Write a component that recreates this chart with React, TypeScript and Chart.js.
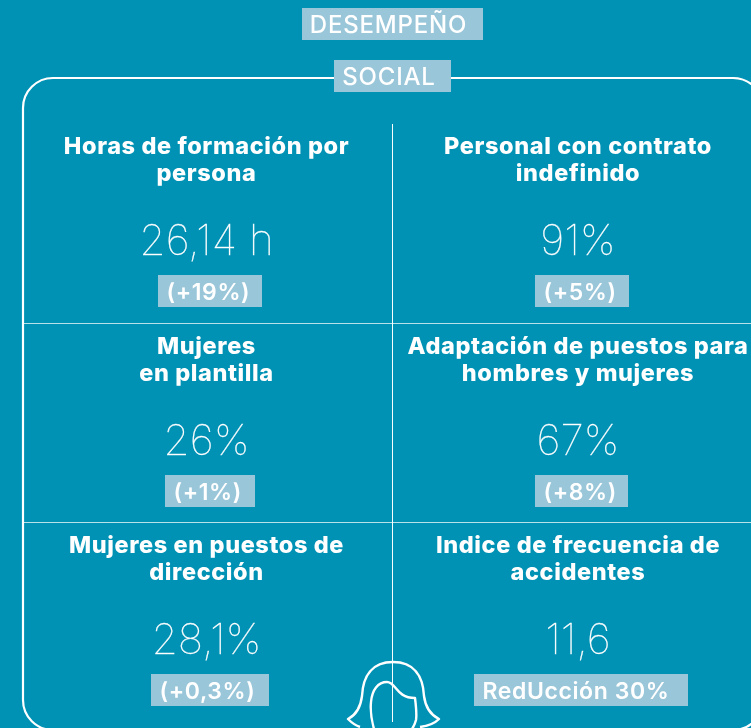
import React, { useEffect, useRef } from "react";
import { Chart, registerables } from "chart.js";

Chart.register(...registerables);

const heading = "DESEMPEÑO";
const section = "SOCIAL";
const titles = [
  ["Horas de formación por", "persona"],
  ["Personal con contrato", "indefinido"],
  ["Mujeres", "en plantilla"],
  ["Adaptación de puestos para", "hombres y mujeres"],
  ["Mujeres en puestos de", "dirección"],
  ["Indice de frecuencia de", "accidentes"],
];
const values = ["26,14 h", "91%", "26%", "67%", "28,1%", "11,6"];
const changes = ["(+19%)", "(+5%)", "(+1%)", "(+8%)", "(+0,3%)", "RedUcción 30%"];

// layout (page pixels)
const W = 751, H = 728;
const colCenters = [206.5, 578];
const rowOffsets = [0, 200, 399];
const badges = [
  [158, 262], [535, 629], [165, 255], [535, 628], [151, 269], [474, 688],
];
const BG = "#0092b5";
const BOX = "#9ac6d9";
const FONT = 'Inter, "Open Sans", sans-serif';

const infographic = {
  id: "infographic",
  afterDatasetsDraw(chart: any) {
    const { ctx, scales } = chart;
    const X = (v: number) => scales.x.getPixelForValue(v);
    const Y = (v: number) => scales.y.getPixelForValue(v);
    ctx.save();
    ctx.textBaseline = "alphabetic";
    ctx.fillStyle = "#fff";

    // frame
    ctx.strokeStyle = "#fff";
    ctx.lineWidth = 2.2;
    ctx.beginPath();
    ctx.roundRect(X(23), Y(78), 740, 652, 30);
    ctx.stroke();

    const box = (x0: number, x1: number, y0: number, y1: number) => {
      ctx.fillStyle = BOX;
      ctx.fillRect(X(x0), Y(y0), x1 - x0, y1 - y0);
      ctx.fillStyle = "#fff";
    };

    // header tags
    ctx.textAlign = "center";
    ctx.font = `500 24px ${FONT}`;
    (ctx as any).letterSpacing = "0.8px";
    box(302, 483, 8, 40);
    ctx.fillText(heading, X(388.5), Y(33));
    box(334, 451, 60, 92);
    ctx.fillText(section, X(389), Y(85));

    titles.forEach((lines, i) => {
      const col = i % 2;
      const off = rowOffsets[Math.floor(i / 2)];
      const cx = colCenters[col];
      ctx.textAlign = "center";
      ctx.fillStyle = "#fff";
      ctx.font = `800 23.5px ${FONT}`;
      (ctx as any).letterSpacing = "0.6px";
      lines.forEach((t, j) => ctx.fillText(t, X(cx), Y(off + 153.5 + j * 27)));

      ctx.font = `100 42.5px ${FONT}`;
      (ctx as any).letterSpacing = "0px";
      ctx.fillText(values[i], X(cx), Y(off + 255));
      ctx.strokeStyle = "rgba(255,255,255,0.8)";
      ctx.lineWidth = 0.35;
      ctx.strokeText(values[i], X(cx), Y(off + 255));

      const [b0, b1] = badges[i];
      box(b0, b1, off + 275, off + 307);
      ctx.textAlign = "left";
      ctx.font = `600 23px ${FONT}`;
      (ctx as any).letterSpacing = "0.6px";
      ctx.fillText(changes[i], X(b0 + 8.5), Y(off + 300));
    });

    // head icon
    ctx.strokeStyle = "#fff";
    ctx.lineWidth = 2.4;
    ctx.lineJoin = "round";
    ctx.beginPath();
    ctx.moveTo(X(360), Y(727));
    ctx.bezierCurveTo(X(354), Y(725), X(351), Y(722), X(348), Y(719));
    ctx.bezierCurveTo(X(358), Y(714), X(361), Y(704), X(362), Y(696));
    ctx.bezierCurveTo(X(363), Y(676), X(372), Y(662), X(393), Y(662));
    ctx.bezierCurveTo(X(414), Y(662), X(423), Y(676), X(424), Y(696));
    ctx.bezierCurveTo(X(425), Y(704), X(429), Y(714), X(439), Y(719));
    ctx.bezierCurveTo(X(435), Y(723), X(428), Y(726), X(420), Y(727));
    ctx.stroke();
    ctx.beginPath();
    ctx.moveTo(X(374), Y(729));
    ctx.bezierCurveTo(X(372), Y(722), X(370), Y(712), X(371), Y(702));
    ctx.bezierCurveTo(X(372), Y(690), X(378), Y(682), X(387), Y(682));
    ctx.bezierCurveTo(X(396), Y(682), X(396), Y(698), X(415), Y(698));
    ctx.bezierCurveTo(X(416), Y(706), X(417), Y(714), X(416), Y(720));
    ctx.bezierCurveTo(X(415), Y(724), X(414), Y(726), X(412), Y(729));
    ctx.stroke();
    ctx.restore();
  },
};

export default function App() {
  const ref = useRef<HTMLCanvasElement>(null);
  useEffect(() => {
    document.body.style.margin = "0";
    document.body.style.background = BG;
    const rule = "rgba(255,255,255,0.72)";
    const line = (data: { x: number; y: number }[]) => ({
      type: "line" as const,
      data,
      borderColor: rule,
      borderWidth: 1,
      pointRadius: 0,
      fill: false,
    });
    const chart = new Chart(ref.current!, {
      type: "scatter",
      data: {
        datasets: [
          line([{ x: 392.5, y: 124 }, { x: 392.5, y: 722 }]),
          line([{ x: 23, y: 323.5 }, { x: 751, y: 323.5 }]),
          line([{ x: 23, y: 522.5 }, { x: 751, y: 522.5 }]),
        ],
      },
      options: {
        animation: false,
        responsive: false,
        layout: { padding: 0 },
        plugins: { legend: { display: false }, tooltip: { enabled: false } },
        scales: {
          x: { type: "linear", display: false, min: 0, max: W },
          y: { type: "linear", display: false, min: 0, max: H, reverse: true },
        },
      },
      plugins: [
        {
          id: "bg",
          beforeDraw(c: any) {
            c.ctx.save();
            c.ctx.fillStyle = BG;
            c.ctx.fillRect(0, 0, c.width, c.height);
            c.ctx.restore();
          },
        },
        infographic,
      ],
    });
    return () => chart.destroy();
  }, []);
  return <canvas ref={ref} width={W} height={H} style={{ display: "block" }} />;
}
